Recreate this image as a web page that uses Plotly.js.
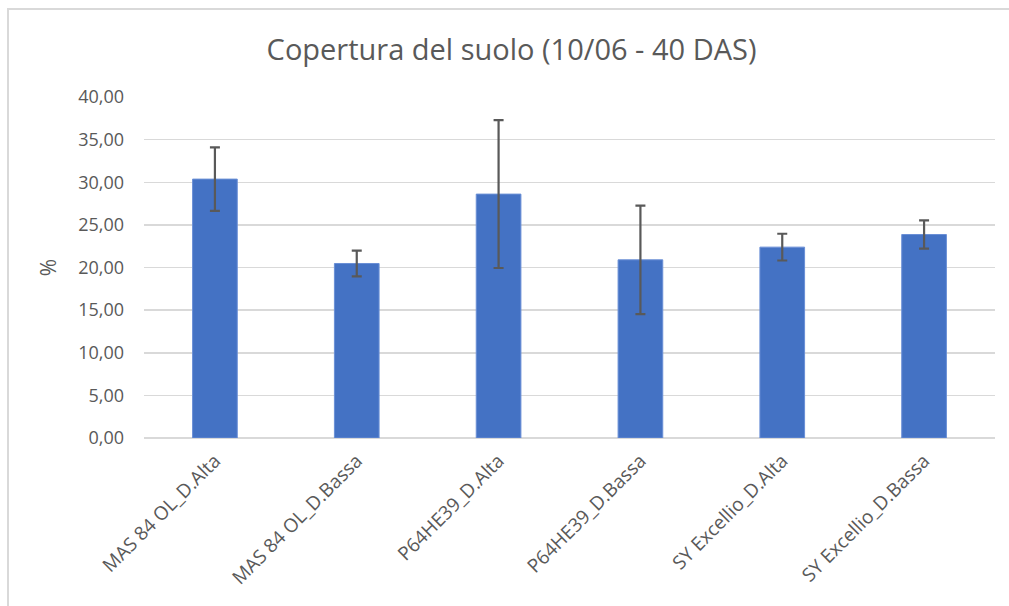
<!DOCTYPE html>
<html>
<head>
<meta charset="utf-8">
<script src="https://cdn.plot.ly/plotly-3.0.1.min.js"></script>
<style>
  html, body { margin: 0; padding: 0; background: #fff; }
  #wrap { position: relative; width: 1009px; height: 606px; overflow: hidden; }
  #chart { position: absolute; left: 0; top: 0; width: 1009px; height: 606px; }
  #frame { position: absolute; left: 7px; top: 8px; width: 1020px; height: 620px;
           border-left: 2px solid #d9d9d9; border-top: 2px solid #d9d9d9; pointer-events: none; }
</style>
</head>
<body>
<div id="wrap">
  <div id="chart"></div>
  <div id="frame"></div>
</div>
<script>
const categories = ["MAS 84 OL_D.Alta", "MAS 84 OL_D.Bassa", "P64HE39_D.Alta",
                    "P64HE39_D.Bassa", "SY Excellio_D.Alta", "SY Excellio_D.Bassa"];
const coverage = [30.37, 20.47, 28.61, 20.90, 22.39, 23.87];
const errorSD = [3.72, 1.50, 8.67, 6.36, 1.57, 1.65];
const yTicks = [0, 5, 10, 15, 20, 25, 30, 35, 40];

const FONT = "'Open Sans', 'Noto Sans', sans-serif";
const GREY = "#595959";

const trace = {
  type: "bar",
  x: categories,
  y: coverage,
  marker: { color: "#4472C4", line: { color: "#6a8fd6", width: 1 } },
  error_y: { type: "data", array: errorSD, visible: true, color: GREY, thickness: 2.2, width: 5 },
  hoverinfo: "x+y"
};

const layout = {
  width: 1009,
  height: 606,
  margin: { l: 144, r: 14, t: 97, b: 168, pad: 0 },
  paper_bgcolor: "#ffffff",
  plot_bgcolor: "#ffffff",
  separators: ",.",
  bargap: 0.685,
  showlegend: false,
  font: { family: FONT, color: GREY, size: 18 },
  title: {
    text: "Copertura del suolo (10/06 - 40 DAS)",
    font: { family: FONT, size: 29, color: GREY },
    x: 0.507, xanchor: "center",
    y: 0.918, yanchor: "middle"
  },
  xaxis: {
    type: "category",
    tickangle: -45,
    tickfont: { family: FONT, size: 19, color: GREY },
    showgrid: false,
    showline: false,
    zeroline: false,
    ticks: "",
    ticklabelstandoff: 7
  },
  yaxis: {
    range: [0, 40],
    tickvals: yTicks,
    tickformat: ".2f",
    tickfont: { family: FONT, size: 18, color: GREY },
    showgrid: true,
    gridcolor: "#d9d9d9",
    gridwidth: 1.5,
    zeroline: true,
    zerolinecolor: "#d9d9d9",
    zerolinewidth: 1.5,
    showline: false,
    ticks: "",
    ticklabelstandoff: 19,
    title: { text: "%", font: { family: FONT, size: 21, color: GREY }, standoff: 15 }
  }
};

Plotly.newPlot("chart", [trace], layout, { displayModeBar: false, staticPlot: true });
</script>
</body>
</html>
